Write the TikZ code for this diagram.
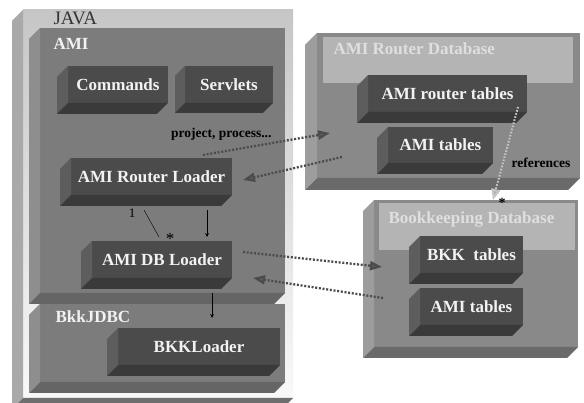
\documentclass[tikz,border=0pt]{standalone}
\usepackage{tikz}
\usetikzlibrary{arrows,arrows.meta,shapes,positioning,calc}
\usepackage{xcolor}
\usepackage{fontspec}
\setmainfont{Liberation Serif}

\definecolor{slabfront}{HTML}{4B4B4B}
\definecolor{slabside}{HTML}{5D5D5D}
\definecolor{slabbottom}{HTML}{3A3A3A}
\definecolor{panelfront}{HTML}{7C7C7C}
\definecolor{panelside}{HTML}{8E8E8E}
\definecolor{panelbottom}{HTML}{656565}
\definecolor{dbfront}{HTML}{898989}
\definecolor{dbside}{HTML}{9D9D9D}
\definecolor{dbbottom}{HTML}{6A6A6A}
\definecolor{dbhead}{HTML}{B4B4B4}
\definecolor{javaside}{HTML}{A9A9A9}
\definecolor{javabottom}{HTML}{6E6E6E}
\definecolor{linkgray}{HTML}{4C4C4C}
\definecolor{refgray}{HTML}{C6C6C6}
\definecolor{labelwhite}{HTML}{F2F2F2}

% side and bottom faces of a raised box: node, depth, colour prefix
\newcommand{\bevel}[3]{%
  \fill[#3side] (#1.north west) -- ([shift={(-#2pt,-#2pt)}]#1.north west)
    -- ([shift={(-#2pt,-#2pt)}]#1.south west) -- (#1.south west) -- cycle;
  \fill[#3bottom] (#1.south west) -- ([shift={(-#2pt,-#2pt)}]#1.south west)
    -- ([shift={(-#2pt,-#2pt)}]#1.south east) -- (#1.south east) -- cycle;
}

\begin{document}
\begin{tikzpicture}[x=1pt, y=-1pt, >=stealth,
    box/.style 2 args={inner sep=0pt, outer sep=0pt, minimum width=#1, minimum height=#2},
    slab/.style={fill=slabfront, text=labelwhite, font=\fontsize{17}{19}\selectfont\bfseries},
    panel/.style={fill=panelfront},
    dbbox/.style={fill=dbfront},
    header/.style={fill=dbhead},
    title/.style={anchor=base west, text=labelwhite, font=\fontsize{17}{19}\selectfont\bfseries},
    note/.style={font=\fontsize{13.5}{15}\selectfont\bfseries},
    link/.style={draw=linkgray, line width=2.3pt, dash pattern=on 2pt off 1.7pt,
      -{Triangle[length=12pt, width=9pt, fill=linkgray!90!white]}},
    reflink/.style={draw=refgray, line width=2pt, dash pattern=on 1.6pt off 1.6pt,
      -{Triangle[length=11pt, width=9pt, fill=refgray!90!black]}}]

    \useasboundingbox (0,0) rectangle (584,403);
    \clip (0,0) rectangle (584,403);
    \fill[white] (0,0) rectangle (584,403);

    % JAVA
    \node[box={270}{388}, top color=gray!45, bottom color=gray!5] (java) at (158,204) {};
    \bevel{java}{11}{java}
    \node[anchor=base west, text=black!80, font=\fontsize{19}{21}\selectfont] (javatitle) at (50,25) {JAVA};

    % AMI
    \node[box={245}{265}, panel] (ami) at (162.5,160.5) {};
    \bevel{ami}{11}{panel}
    \node[title] (amititle) at (50,50) {AMI};

    \node[box={100}{37}, slab] (cmd) at (118,84.5) {Commands};
    \bevel{cmd}{11}{slab}
    \node[box={88}{37}, slab] (servlets) at (229,84.5) {Servlets};
    \bevel{servlets}{10}{slab}
    \node[box={161}{37}, slab] (rloader) at (151.5,176.5) {AMI Router Loader};
    \bevel{rloader}{11}{slab}
    \node[box={140}{37}, slab] (dbloader) at (162,259.5) {AMI DB Loader};
    \bevel{dbloader}{11}{slab}

    % BkkJDBC
    \node[box={245}{78}, panel] (jdbc) at (162.5,343) {};
    \bevel{jdbc}{11}{panel}
    \node[title] (jdbctitle) at (52,323) {BkkJDBC};
    \node[box={162}{37}, slab] (bkkloader) at (199,346.5) {BKKLoader};
    \bevel{bkkloader}{11}{slab}

    % AMI Router Database
    \node[box={263}{145}, dbbox] (rdb) at (448.5,105.5) {};
    \bevel{rdb}{12}{db}
    \node[box={250}{46}, header] (rhead) at (448,60) {};
    \node[title, text=labelwhite!92!black] (rdbtitle) at (330,55) {AMI Router Database};
    \node[box={159}{37}, slab] (rtables) at (447.5,93.5) {AMI router tables};
    \bevel{rtables}{11}{slab}
    \node[box={105}{36}, slab] (rami) at (440.5,145) {AMI tables};
    \bevel{rami}{11}{slab}
    \node[note, anchor=base west] (refs) at (508,168) {references};

    % Bookkeeping Database
    \node[box={204}{147}, dbbox] (bkkdb) at (476,273.5) {};
    \bevel{bkkdb}{11}{db}
    \node[box={196}{47}, header] (bhead) at (477,226.5) {};
    \node[title, text=labelwhite!92!black] (bkktitle) at (385,224) {Bookkeeping Database};
    \node[box={103}{37}, slab] (bkktab) at (471.5,254.5) {BKK\ \ tables};
    \bevel{bkktab}{11}{slab}
    \node[box={103}{37}, slab] (bami) at (471.5,306.5) {AMI tables};
    \bevel{bami}{11}{slab}

    % free ends inside the databases
    \coordinate (rdbin) at (330,133);
    \coordinate (rdbout) at (342,157);
    \coordinate (bkkin) at (382,267);
    \coordinate (bkkout) at (383,298);

    % links
    \node[note, anchor=base east] (pp) at (275,138) {project, process...};
    \draw[link] ([shift={(-29pt,3pt)}]rloader.north east) -- (rdbin);
    \draw[link] (rdbout) -- ([shift={(11pt,-3.5pt)}]rloader.east);
    \draw[link] ([shift={(11pt,7.5pt)}]dbloader.east) -- (bkkin);
    \draw[link] (bkkout) -- ([shift={(21pt,0pt)}]dbloader.south east);
    \draw[reflink] ([shift={(-9pt,5pt)}]rtables.south east) -- ([shift={(16pt,3pt)}]bhead.north)
        node[pos=1, inner sep=0pt, xshift=9pt, yshift=-3pt, font=\fontsize{14}{15}\selectfont\bfseries] {*};

    % loaders
    \draw[thin] ([shift={(-7.5pt,-15pt)}]rloader.south) -- ([shift={(-3pt,4pt)}]dbloader.north)
        node[pos=0, xshift=-12pt, yshift=-3pt, font=\fontsize{13}{15}\selectfont] {1}
        node[pos=1, xshift=11pt, yshift=-2pt, font=\fontsize{17}{19}\selectfont] {*};
    \draw[->, thick] ([shift={(55.5pt,-15pt)}]rloader.south) -- ([shift={(45pt,4pt)}]dbloader.north);
    \draw[->, thick] ([shift={(50pt,-15pt)}]dbloader.south) -- ([shift={(13pt,10pt)}]bkkloader.north);
\end{tikzpicture}
\end{document}
